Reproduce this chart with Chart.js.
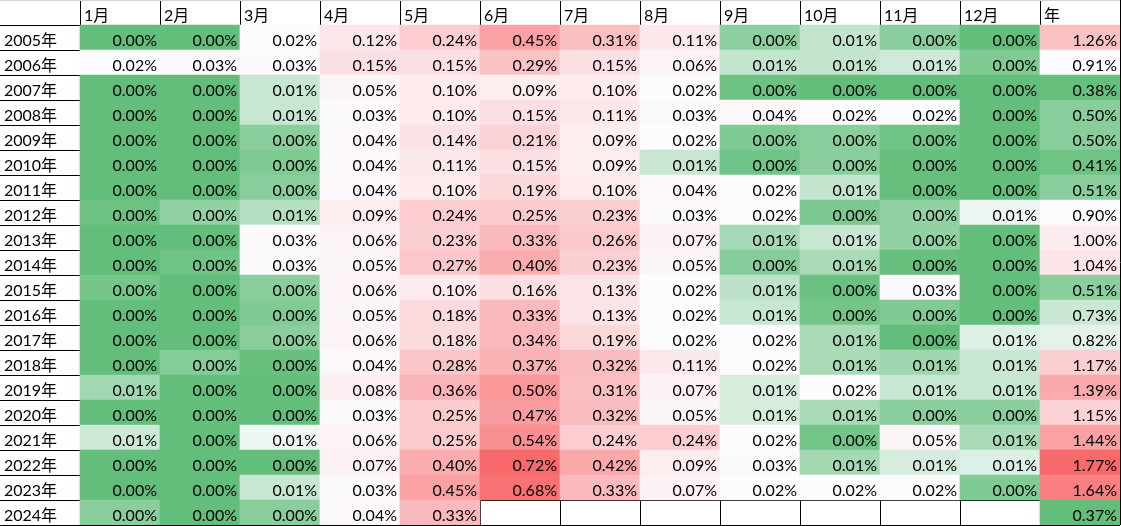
<!DOCTYPE html>
<html>
<head>
<meta charset="utf-8">
<script src="https://cdn.jsdelivr.net/npm/chart.js@4"></script>
<style>
  html, body { margin: 0; padding: 0; background: #fff; }
  canvas { display: block; }
</style>
</head>
<body>
<canvas id="heat" width="1121" height="526"></canvas>
<script>
const months = ['1月', '2月', '3月', '4月', '5月', '6月', '7月', '8月', '9月', '10月', '11月', '12月'];
const years = ['2005年', '2006年', '2007年', '2008年', '2009年', '2010年', '2011年', '2012年', '2013年', '2014年',
  '2015年', '2016年', '2017年', '2018年', '2019年', '2020年', '2021年', '2022年', '2023年', '2024年'];

// values in %, 2005 .. 2024 (small ones estimated past the 2 shown decimals from the cell shade)
const jan = [0, 0.016, 0, 0, 0, 0, 0, 0.001, 0, 0, 0.002, 0, 0, 0, 0.0066, 0, 0.011, 0, 0, 0.004];
const feb = [0, 0.03, 0, 0, 0, 0, 0, 0.0048, 0, 0.0015, 0, 0, 0, 0.0035, 0, 0, 0, 0, 0, 0];
const mar = [0.016, 0.03, 0.0106, 0.0106, 0.004, 0.003, 0.004, 0.0085, 0.03, 0.03, 0.004, 0.003, 0.004, 0.0005, 0, 0, 0.0144, 0, 0.0106, 0.004];
const apr = [0.12, 0.15, 0.05, 0.03, 0.04, 0.04, 0.04, 0.09, 0.06, 0.05, 0.06, 0.05, 0.06, 0.04, 0.08, 0.03, 0.06, 0.07, 0.03, 0.04];
const may = [0.24, 0.15, 0.10, 0.10, 0.14, 0.11, 0.10, 0.24, 0.23, 0.27, 0.10, 0.18, 0.18, 0.28, 0.36, 0.25, 0.25, 0.40, 0.45, 0.33];
const jun = [0.45, 0.29, 0.09, 0.15, 0.21, 0.15, 0.19, 0.25, 0.33, 0.40, 0.16, 0.33, 0.34, 0.37, 0.50, 0.47, 0.54, 0.72, 0.68, null];
const jul = [0.31, 0.15, 0.10, 0.11, 0.09, 0.09, 0.10, 0.23, 0.26, 0.23, 0.13, 0.13, 0.19, 0.32, 0.31, 0.32, 0.24, 0.42, 0.33, null];
const aug = [0.11, 0.06, 0.02, 0.03, 0.02, 0.0106, 0.04, 0.03, 0.07, 0.05, 0.02, 0.02, 0.02, 0.11, 0.07, 0.05, 0.24, 0.09, 0.07, null];
const sep = [0.0044, 0.0100, 0.001, 0.04, 0.003, 0.0015, 0.016, 0.02, 0.007, 0.0037, 0.0094, 0.0106, 0.02, 0.02, 0.012, 0.012, 0.02, 0.03, 0.02, null];
const oct = [0.0099, 0.0100, 0, 0.02, 0.004, 0.004, 0.0100, 0.0026, 0.0106, 0.0072, 0.0008, 0.0019, 0.0072, 0.0072, 0.02, 0.0072, 0.0017, 0.0067, 0.02, null];
const nov = [0.004, 0.0114, 0, 0.02, 0.0012, 0.0003, 0.0003, 0.0048, 0.0048, 0.0003, 0.03, 0.003, 0, 0.0064, 0.0106, 0.004, 0.05, 0.012, 0.02, null];
const dec = [0, 0.003, 0, 0, 0, 0, 0, 0.0144, 0, 0, 0, 0, 0.0128, 0.0106, 0.0106, 0.004, 0.0072, 0.0128, 0.003, null];
const annual = [1.26, 0.91, 0.38, 0.50, 0.50, 0.41, 0.51, 0.90, 1.00, 1.04, 0.51, 0.73, 0.82, 1.17, 1.39, 1.15, 1.44, 1.77, 1.64, 0.37];

const monthly = [jan, feb, mar, apr, may, jun, jul, aug, sep, oct, nov, dec];
const cols = [''].concat(months, ['年']);

// excel style green - white - red scale, mid = 50th percentile
const GREEN = [99, 190, 123], WHITE = [252, 252, 255], RED = [248, 105, 107];
function percentile(vals, p) {
  const s = vals.slice().sort((a, b) => a - b);
  const pos = (s.length - 1) * p;
  const lo = Math.floor(pos);
  return s[lo] + (s[Math.min(lo + 1, s.length - 1)] - s[lo]) * (pos - lo);
}
function makeScale(vals) {
  const lo = Math.min(...vals), hi = Math.max(...vals), mid = percentile(vals, 0.5);
  return v => {
    let a, b, t;
    if (v <= mid) { a = GREEN; b = WHITE; t = mid === lo ? 1 : (v - lo) / (mid - lo); }
    else { a = WHITE; b = RED; t = (v - mid) / (hi - mid); }
    return 'rgb(' + a.map((c, i) => Math.round(c + (b[i] - c) * t)).join(',') + ')';
  };
}

const monthVals = [].concat(...monthly).filter(v => v !== null);
const monthColor = makeScale(monthVals);
const yearColor = makeScale(annual);

const cells = [];
const colors = [];
monthly.forEach((arr, j) => {
  arr.forEach((v, i) => {
    if (v === null) return;
    cells.push({ x: months[j], y: [i + 1, i + 2], v: v });
    colors.push(monthColor(v));
  });
});
annual.forEach((v, i) => {
  cells.push({ x: '年', y: [i + 1, i + 2], v: v });
  colors.push(yearColor(v));
});

const cellText = {
  id: 'cellText',
  afterDraw(chart) {
    const { ctx, scales: { x, y } } = chart;
    const half = (x.getPixelForValue(1) - x.getPixelForValue(0)) / 2;
    ctx.save();
    ctx.font = '16px Lato, "Noto Sans CJK SC", sans-serif';
    ctx.fillStyle = '#000';
    ctx.textBaseline = 'alphabetic';
    ctx.textAlign = 'left';
    cols.forEach((c, i) => {
      if (c) ctx.fillText(c, x.getPixelForValue(i) - half + 4, y.getPixelForValue(1) - 4);
    });
    years.forEach((yr, i) => {
      ctx.fillText(yr, x.getPixelForValue(0) - half + 4, y.getPixelForValue(i + 2) - 4);
    });
    ctx.textAlign = 'right';
    chart.data.datasets[0].data.forEach(d => {
      ctx.fillText(d.v.toFixed(2) + '%', x.getPixelForValue(d.x) + half - 3, y.getPixelForValue(d.y[1]) - 4);
    });
    ctx.restore();
  }
};

new Chart(document.getElementById('heat'), {
  type: 'bar',
  data: {
    labels: cols,
    datasets: [{
      data: cells,
      backgroundColor: colors,
      borderWidth: 0,
      categoryPercentage: 1,
      barPercentage: 1,
    }],
  },
  options: {
    responsive: false,
    animation: false,
    layout: { padding: { right: 1, bottom: 1 } },
    plugins: { legend: { display: false }, tooltip: { enabled: false } },
    scales: {
      x: {
        type: 'category',
        offset: true,
        z: 1,
        ticks: { display: false },
        border: { display: false },
        grid: {
          offset: true,
          drawTicks: false,
          color: ctx => (ctx.index === 0 ? 'rgba(0,0,0,0)' : '#000'),
        },
      },
      y: {
        type: 'linear',
        min: 0,
        max: 21,
        reverse: true,
        z: 1,
        ticks: { display: false, stepSize: 1, maxTicksLimit: 100 },
        border: { display: false },
        grid: {
          drawTicks: false,
          color: ctx => (ctx.tick && ctx.tick.value === 0 ? '#d4d4d4' : '#000'),
        },
      },
    },
  },
  plugins: [cellText],
});
</script>
</body>
</html>
